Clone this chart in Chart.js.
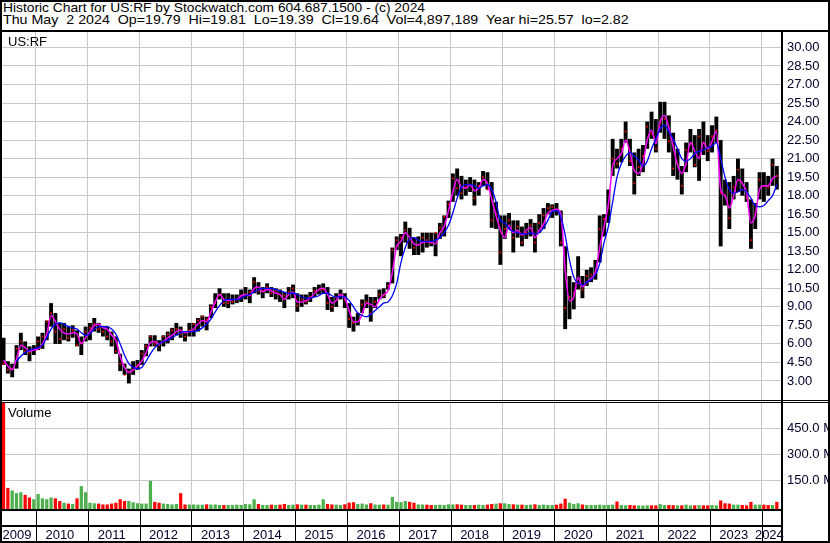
<!DOCTYPE html>
<html>
<head>
<meta charset="utf-8">
<script src="https://cdn.jsdelivr.net/npm/chart.js@4.4.1/dist/chart.umd.min.js"></script>
<style>
body{margin:0;background:#fff;}
#wrap{position:relative;width:830px;height:543px;overflow:hidden;background:#fff;font-family:"Liberation Sans",Arial,sans-serif;font-size:13px;color:#000;}
.ln{position:absolute;background:#000;}
.txt{position:absolute;white-space:pre;line-height:13px;}
.hd{line-height:12px;transform-origin:0 0;}
canvas{position:absolute;left:0;}
</style>
</head>
<body>
<div id="wrap">
  <canvas id="priceChart" style="top:32px;width:830px;height:368px" width="830" height="368"></canvas>
  <canvas id="volChart" style="top:403px;width:830px;height:140px" width="830" height="140"></canvas>
  <div class="txt hd" style="left:3px;top:2px;transform:scaleX(1.06)">Historic Chart for US:RF by Stockwatch.com 604.687.1500 - (c) 2024</div>
  <div class="txt hd" style="left:3px;top:14px;transform:scaleX(1.095)">Thu May  2 2024  Op=19.79  Hi=19.81  Lo=19.39  Cl=19.64  Vol=4,897,189  Year hi=25.57  lo=2.82</div>
  <div class="txt" style="left:8px;top:35px">US:RF</div>
  <div class="txt" style="left:8px;top:406px">Volume</div>
  <div class="ln" style="left:0;top:0;width:830px;height:2px"></div>
  <div class="ln" style="left:0;top:0;width:2px;height:543px"></div>
  <div class="ln" style="left:828px;top:0;width:2px;height:543px"></div>
  <div class="ln" style="left:0;top:541px;width:830px;height:2px"></div>
  <div class="ln" style="left:0;top:30px;width:830px;height:2px"></div>
  <div class="ln" style="left:781px;top:32px;width:2px;height:511px"></div>
  <div class="ln" style="left:0;top:400px;width:830px;height:1px"></div>
  <div class="ln" style="left:0;top:402px;width:830px;height:1px"></div>
</div>
<script>
// monthly bars, May 2009 .. Apr 2024
var startYear = 2009, startMonth = 5;

var hi = [
  6.5, 4.6, 4.4, 5.9, 6.9, 6.2, 5.8, 5.9,
  6.6, 6.9, 7.9, 9.3, 8.5, 7.7, 7.7, 7.4, 7.5, 7.1, 6.6, 7.4,
  7.7, 8.1, 7.7, 7.4, 7.4, 7.0, 6.6, 5.2, 4.4, 4.0, 4.6, 4.7,
  5.5, 6.0, 6.7, 6.7, 6.3, 6.7, 7.0, 7.3, 7.7, 7.4, 7.0, 7.7,
  7.7, 8.1, 8.3, 8.2, 9.2, 10.1, 10.5, 10.1, 10.1, 10.0, 10.0, 10.4,
  10.6, 10.4, 11.4, 11.0, 10.6, 10.9, 10.6, 10.5, 10.4, 10.2, 10.6, 10.8,
  10.1, 10.0, 10.0, 10.2, 10.6, 10.8, 10.9, 10.6, 9.8, 10.1, 10.4, 10.1,
  9.3, 8.2, 8.5, 9.6, 10.0, 9.8, 9.8, 10.4, 10.5, 11.0, 13.8, 14.7,
  14.9, 15.9, 15.4, 14.6, 14.7, 15.0, 15.0, 15.0, 15.0, 15.8, 16.4, 17.6,
  19.8, 20.2, 19.6, 19.3, 19.5, 19.3, 19.1, 20.0, 19.9, 19.1, 17.5, 16.4,
  16.4, 16.6, 16.0, 16.0, 15.5, 15.8, 16.1, 15.8, 16.5, 17.0, 17.4, 17.3,
  17.4, 16.8, 13.9, 11.5, 11.0, 13.1, 11.5, 12.0, 12.2, 12.8, 16.4, 16.5,
  18.5, 22.6, 21.8, 22.6, 24.0, 22.6, 21.5, 21.8, 22.1, 24.0, 24.8, 24.2,
  25.6, 25.6, 24.5, 23.1, 21.8, 20.4, 22.3, 23.4, 22.9, 23.4, 24.0, 22.9,
  23.7, 24.4, 22.5, 19.3, 19.1, 19.6, 21.0, 20.2, 19.1, 17.7, 17.4, 19.9,
  19.9, 19.6, 21.0, 20.4
];
var lo = [
  4.3, 3.6, 3.3, 4.0, 5.5, 5.1, 4.6, 5.1,
  5.5, 5.6, 6.3, 7.4, 6.0, 6.0, 6.3, 6.2, 6.5, 5.8, 5.1, 6.2,
  6.3, 7.0, 6.9, 6.6, 6.3, 5.8, 5.2, 3.8, 3.5, 2.8, 3.5, 3.9,
  4.3, 5.0, 5.8, 5.8, 5.4, 5.8, 6.05, 6.3, 6.7, 6.5, 6.2, 6.6,
  6.6, 7.0, 7.4, 7.1, 8.1, 8.9, 9.6, 9.0, 8.9, 9.2, 9.3, 9.4,
  9.6, 9.3, 10.1, 10.0, 9.7, 10.1, 9.8, 9.6, 9.4, 8.9, 9.6, 9.7,
  8.6, 9.0, 9.2, 9.4, 9.8, 10.0, 10.1, 8.75, 8.6, 9.0, 9.6, 8.9,
  7.3, 7.0, 7.5, 8.5, 8.9, 7.8, 8.9, 9.6, 9.7, 10.4, 10.9, 13.6,
  13.1, 14.2, 13.7, 13.2, 13.2, 13.4, 13.8, 13.9, 13.1, 14.5, 14.7, 16.2,
  17.5, 18.0, 17.7, 18.0, 18.3, 17.2, 18.0, 18.8, 18.5, 15.4, 15.3, 12.4,
  14.5, 15.3, 13.4, 14.6, 13.9, 14.5, 14.7, 13.4, 15.0, 15.3, 16.5, 16.2,
  16.4, 13.9, 7.2, 8.0, 8.8, 10.4, 9.7, 10.7, 11.0, 11.2, 12.6, 14.7,
  15.8, 19.6, 20.2, 20.7, 22.3, 20.4, 18.1, 19.6, 19.9, 21.8, 22.6, 21.5,
  23.1, 22.6, 21.5, 19.6, 19.3, 18.1, 19.9, 21.5, 20.3, 19.2, 21.3, 20.8,
  21.5, 22.3, 13.9, 17.2, 15.3, 17.7, 18.3, 18.0, 17.5, 13.7, 15.3, 17.7,
  17.5, 18.0, 18.8, 18.5
];
var cl = [
  4.4, 3.9, 4.0, 5.6, 6.2, 5.4, 5.3, 5.6,
  6.2, 6.6, 7.8, 8.5, 7.0, 6.4, 7.2, 6.5, 7.1, 5.9, 6.1, 7.0,
  7.3, 7.6, 7.2, 7.0, 6.6, 6.2, 5.4, 4.4, 3.5, 3.7, 3.9, 4.3,
  5.2, 5.8, 6.6, 6.0, 5.9, 6.6, 6.8, 7.1, 7.2, 6.8, 6.6, 7.1,
  7.6, 7.9, 8.2, 8.0, 9.0, 9.3, 10.0, 9.3, 9.3, 9.4, 9.6, 9.9,
  10.0, 10.2, 11.0, 10.3, 10.3, 10.6, 10.1, 10.3, 10.0, 9.9, 10.2, 10.5,
  9.1, 9.6, 9.4, 9.8, 10.3, 10.4, 10.4, 9.3, 9.0, 9.8, 10.0, 9.6,
  8.0, 7.7, 8.5, 9.2, 9.4, 8.5, 9.4, 10.0, 9.9, 10.7, 13.6, 14.4,
  14.6, 15.2, 14.5, 13.8, 14.0, 14.6, 14.4, 14.2, 15.0, 15.4, 16.3, 17.3,
  19.4, 18.6, 18.2, 18.7, 18.9, 17.8, 18.8, 19.5, 18.5, 16.0, 16.5, 13.4,
  15.3, 16.0, 14.6, 15.5, 14.2, 15.0, 15.6, 14.2, 15.8, 16.4, 17.0, 17.1,
  16.9, 14.2, 8.9, 9.8, 10.1, 10.9, 10.4, 11.5, 11.6, 11.8, 15.3, 16.1,
  17.0, 21.0, 20.6, 21.8, 23.2, 20.8, 19.0, 20.3, 21.2, 23.6, 23.0, 21.8,
  24.0, 24.2, 22.4, 20.2, 20.6, 18.8, 21.7, 22.2, 20.5, 22.8, 22.3, 21.6,
  22.8, 23.3, 18.2, 18.0, 16.2, 18.7, 20.1, 18.5, 17.8, 14.4, 16.5, 19.3,
  18.8, 18.7, 20.5, 19.6
];
// short average (magenta)
var ma1 = [
  4.7, 4.2, 3.9, 4.8, 5.9, 5.7, 5.4, 5.5,
  5.6, 6.0, 6.8, 8.3, 7.8, 7.2, 6.9, 6.8, 6.9, 6.8, 6.0, 6.5,
  7.0, 7.5, 7.6, 7.3, 7.2, 6.7, 6.3, 5.0, 4.1, 3.7, 3.9, 4.2,
  4.6, 5.3, 6.1, 6.2, 6.0, 6.2, 6.5, 6.7, 7.0, 7.1, 6.9, 7.0,
  7.2, 7.6, 7.9, 7.8, 8.6, 9.4, 10.0, 9.6, 9.5, 9.6, 9.6, 9.9,
  10.0, 9.9, 10.5, 10.6, 10.2, 10.4, 10.3, 10.1, 10.0, 9.6, 10.0, 10.2,
  9.4, 9.4, 9.5, 9.7, 10.1, 10.4, 10.5, 10.0, 9.3, 9.5, 10.0, 9.7,
  8.7, 7.8, 7.8, 8.4, 9.3, 9.2, 9.0, 9.6, 10.0, 10.3, 11.8, 13.9,
  14.3, 15.0, 14.6, 14.1, 14.0, 14.2, 14.3, 14.2, 14.1, 15.0, 15.5, 16.8,
  18.3, 19.3, 18.7, 18.6, 18.9, 18.4, 18.6, 19.3, 19.0, 17.7, 16.4, 15.2,
  14.6, 15.6, 15.0, 15.2, 14.8, 15.2, 15.4, 14.6, 15.2, 15.7, 16.6, 16.8,
  16.9, 16.5, 12.0, 9.5, 9.8, 11.4, 10.6, 11.0, 11.3, 11.8, 13.8, 15.5,
  17.3, 20.4, 21.0, 21.4, 22.5, 21.5, 20.0, 19.8, 20.6, 22.5, 23.3, 22.2,
  24.0, 24.5, 23.5, 22.0, 20.5, 19.8, 20.6, 22.3, 21.6, 21.0, 22.3, 21.8,
  22.4, 23.2, 18.5, 18.0, 17.0, 18.0, 19.3, 19.0, 18.2, 15.8, 16.4, 18.5,
  18.8, 18.8, 19.4, 19.6
];
// long average (blue)
var ma2 = [
  null, null, null, 4.6, 5.0, 5.3, 5.5, 5.6,
  5.7, 5.9, 6.5, 7.2, 7.6, 7.7, 7.6, 7.4, 7.3, 7.2, 6.9, 6.7,
  6.8, 7.2, 7.4, 7.4, 7.4, 7.2, 6.8, 6.0, 5.1, 4.4, 4.1, 4.0,
  4.1, 4.6, 5.2, 5.7, 6.0, 6.2, 6.3, 6.5, 6.7, 6.9, 7.0, 7.0,
  7.0, 7.1, 7.3, 7.6, 8.0, 8.6, 9.1, 9.5, 9.6, 9.6, 9.6, 9.7,
  9.9, 10.0, 10.2, 10.4, 10.5, 10.5, 10.5, 10.4, 10.3, 10.2, 10.1, 10.1,
  10.0, 9.8, 9.7, 9.7, 9.8, 9.9, 10.1, 10.1, 9.9, 9.8, 9.8, 9.8,
  9.5, 9.0, 8.5, 8.3, 8.2, 8.4, 8.7, 9.0, 9.3, 9.4, 9.9, 10.9,
  12.6, 13.8, 14.5, 14.6, 14.4, 14.3, 14.3, 14.3, 14.4, 14.6, 15.0, 15.6,
  16.6, 17.8, 18.7, 18.9, 18.9, 18.8, 18.6, 18.8, 18.9, 18.5, 17.5, 16.0,
  15.8, 15.3, 15.1, 15.0, 14.9, 14.9, 15.0, 14.9, 15.0, 15.4, 16.0, 16.7,
  16.8, 16.3, 14.8, 12.8, 11.4, 10.9, 10.8, 11.0, 11.2, 11.6, 12.5, 14.2,
  15.5, 17.5, 19.5, 20.6, 21.2, 21.5, 21.2, 20.9, 20.4, 20.8, 21.8, 22.6,
  23.4, 23.7, 23.2, 22.6, 21.8, 21.0, 20.8, 21.0, 21.4, 21.6, 21.7, 21.9,
  22.0, 22.3, 21.0, 19.5, 18.5, 18.2, 18.3, 18.5, 18.3, 17.8, 17.2, 17.1,
  17.2, 17.6, 18.0, 18.9
];
// volume, millions
var vol = [
  600, 110, 95, 80, 85, 70, 55, 45,
  75, 50, 45, 55, 50, 35, 25, 20, 18, 50, 120, 85,
  25, 22, 20, 15, 15, 20, 25, 45, 35, 35, 28, 22,
  20, 20, 150, 30, 25, 20, 18, 15, 18, 80, 15, 15,
  15, 14, 14, 16, 14, 15, 12, 12, 12, 12, 14, 12,
  18, 16, 45, 18, 12, 12, 14, 12, 14, 18, 12, 14,
  16, 14, 14, 12, 12, 14, 45, 18, 15, 14, 12, 16,
  25, 28, 18, 20, 15, 22, 15, 14, 15, 14, 58, 30,
  28, 35, 30, 25, 15, 15, 14, 12, 12, 14, 12, 16,
  15, 16, 14, 12, 12, 12, 14, 12, 14, 18, 20, 22,
  22, 18, 16, 14, 14, 12, 14, 16, 12, 14, 12, 12,
  14, 20, 48, 25, 18, 22, 15, 12, 12, 12, 14, 12,
  12, 14, 32, 12, 10, 12, 10, 9, 9, 10, 10, 10,
  17, 12, 12, 11, 10, 10, 14, 10, 10, 11, 10, 10,
  12, 10, 38, 22, 20, 14, 14, 12, 10, 30, 14, 14,
  14, 12, 12, 30
];

var priceTicks = [3, 4.5, 6, 7.5, 9, 10.5, 12, 13.5, 15, 16.5, 18, 19.5, 21, 22.5, 24, 25.5, 27, 28.5, 30];
var volTicks = [150, 300, 450];
var yearLabels = [2009, 2010, 2011, 2012, 2013, 2014, 2015, 2016, 2017, 2018, 2019, 2020, 2021, 2022, 2023, 2024];

var xMin = 2009.345, xMax = 2024.372;
var volMin = -10.9, volMax = 596;
var FONT = '"Liberation Sans", Arial, sans-serif';
var GRID = '#c8c8c8';

// month centres in decimal years
var months = [];
for (var i = 0; i < hi.length; i++) {
  var m = startMonth - 1 + i;
  months.push(startYear + Math.floor(m / 12) + (m % 12) / 12 + 1 / 24);
}

function xy(arr){ return arr.map(function(v, i){ return {x: months[i], y: v}; }); }
function noPad(s){ s.paddingTop = 0; s.paddingBottom = 0; s.paddingLeft = 0; s.paddingRight = 0; }

var yearTicks = yearLabels.slice(1);
var xAxis = {
  type: 'linear', min: xMin, max: xMax, offset: false,
  grid: {color: GRID, lineWidth: 1, drawTicks: false, offset: false},
  border: {display: false},
  ticks: {display: false},
  afterBuildTicks: function(s){ s.ticks = yearTicks.map(function(v){ return {value: v}; }); },
  afterFit: function(s){ s.height = 0; noPad(s); }
};

function rightAxis(min, max, ticks, fmt){
  return {
    position: 'right', min: min, max: max, beginAtZero: false,
    grid: {color: GRID, lineWidth: 1, drawTicks: false},
    border: {display: false},
    ticks: {padding: 6, color: '#00002a', font: {family: FONT, size: 13}, callback: fmt},
    afterBuildTicks: function(s){ s.ticks = ticks.map(function(v){ return {value: v}; }); },
    afterFit: function(s){ s.width = 49; noPad(s); }
  };
}

var common = {
  responsive: false, animation: false,
  layout: {autoPadding: false, padding: {left: 2, right: 0, top: 0, bottom: 0}},
  plugins: {legend: {display: false}, tooltip: {enabled: false}}
};

new Chart(document.getElementById('priceChart'), {
  type: 'bar',
  data: {datasets: [
    {type: 'line', data: xy(ma2), borderColor: '#0000ff', borderWidth: 1.3, pointRadius: 0, cubicInterpolationMode: 'monotone', order: 0},
    {type: 'line', data: xy(ma1), borderColor: '#ff00ff', borderWidth: 1.5, pointRadius: 0, cubicInterpolationMode: 'monotone', order: 1},
    {type: 'line', data: xy(cl), showLine: false, pointStyle: 'rect', pointRadius: 1.2, pointBorderWidth: 0, pointBackgroundColor: '#ff0000', order: 2},
    {type: 'bar', data: hi.map(function(h, i){ return {x: months[i], y: [lo[i], h]}; }), backgroundColor: '#000000', barPercentage: 0.9, categoryPercentage: 1, order: 3}
  ]},
  options: Object.assign({}, common, {
    scales: {
      x: xAxis,
      y: rightAxis(1.46, 31.25, priceTicks, function(v){ return Number(v).toFixed(2); })
    }
  })
});

var yearStrip = {
  id: 'yearStrip',
  afterDraw: function(chart){
    var ctx = chart.ctx, x = chart.scales.x, b = chart.chartArea.bottom;
    ctx.save();
    ctx.fillStyle = '#000';
    ctx.fillRect(0, b, 781, 2);
    ctx.fillRect(0, b + 16, 781, 2);
    yearTicks.forEach(function(y){
      var px = Math.round(x.getPixelForValue(y));
      ctx.fillRect(px, b + 2, 1, 30);
    });
    ctx.fillStyle = '#00002a';
    ctx.font = '13px ' + FONT;
    ctx.textAlign = 'center';
    ctx.textBaseline = 'alphabetic';
    yearLabels.forEach(function(y){
      var l = x.getPixelForValue(Math.max(xMin, y));
      var r = x.getPixelForValue(Math.min(xMax, y + 1));
      ctx.fillText(String(y), (l + r) / 2 - 2, b + 30);
    });
    ctx.restore();
  }
};

var volColors = vol.map(function(v, i){ return (i > 0 && cl[i] >= cl[i - 1]) ? '#4cb04c' : '#ff0000'; });

new Chart(document.getElementById('volChart'), {
  type: 'bar',
  data: {datasets: [
    {data: xy(vol), base: volMin, backgroundColor: volColors, barPercentage: 0.75, categoryPercentage: 1}
  ]},
  options: Object.assign({}, common, {
    layout: {autoPadding: false, padding: {left: 2, right: 0, top: 0, bottom: 34}},
    scales: {
      x: xAxis,
      y: rightAxis(volMin, volMax, volTicks, function(v){ return Number(v).toFixed(1) + ' M'; })
    }
  }),
  plugins: [yearStrip]
});
</script>
</body>
</html>
